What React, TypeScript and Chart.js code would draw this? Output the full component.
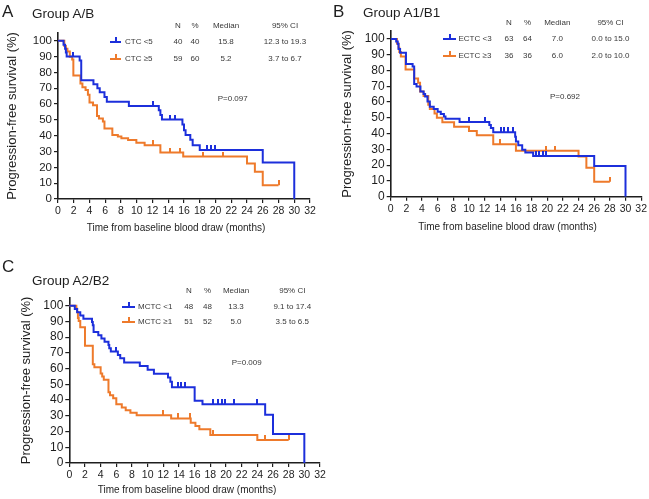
import React, { useEffect, useRef } from "react";
import { Chart, registerables } from "chart.js";

Chart.register(...registerables);

const FONT = '"Liberation Sans", Arial, Helvetica, sans-serif';
const BLUE = "#1c2fdb";
const ORANGE = "#ee7a2b";
const INK = "#1e1e1e";
const TXT = "#383838";

const xTicks = [0, 2, 4, 6, 8, 10, 12, 14, 16, 18, 20, 22, 24, 26, 28, 30, 32];
const yTicks = [0, 10, 20, 30, 40, 50, 60, 70, 80, 90, 100];
const tableHeader = ["N", "%", "Median", "95% CI"];
const yTitle = "Progression-free survival (%)";
const xTitle = "Time from baseline blood draw (months)";

// ---------- Panel A : Group A/B ----------
const aLowTimes = [0, 0.7, 0.9, 1.0, 1.1, 2.75, 2.95, 4.5, 5.0, 5.3, 5.9, 6.2, 9.0, 12.8, 13.0, 13.2, 15.8, 16.0, 16.2, 16.8, 17.1, 18.0, 26.0, 30.0];
const aLowSurv = [100, 97.5, 95, 92.5, 90, 87.5, 75, 72.5, 70, 67.5, 64.5, 61.5, 58.7, 56, 53, 50.2, 47, 43.5, 40.5, 37.5, 34, 31, 23, 0];
const aLowCensor = [1.9, 12.0, 14.2, 14.8, 18.9, 19.4, 19.9];
const aHighTimes = [0, 0.8, 1.0, 1.2, 1.5, 1.8, 1.95, 2.85, 3.1, 3.5, 3.8, 4.0, 4.45, 4.95, 5.2, 5.7, 5.9, 6.9, 7.6, 8.05, 8.9, 9.95, 11.0, 13.0, 15.9, 24.0, 25.0, 26.0, 28.0];
const aHighSurv = [100, 96.6, 94.9, 93.2, 89.8, 88.1, 78, 73, 70.6, 68.8, 65.8, 61, 59.3, 52.5, 50.8, 49, 44.5, 40.5, 39.5, 38.4, 37.3, 35.5, 34, 29.3, 26.8, 22.5, 17.2, 8.7, 8.7];
const aHighCensor = [12.0, 14.2, 15.5, 18.4, 21.0, 28.0];
const aLabels = ["CTC <5", "CTC \u22655"];
const aN = ["40", "59"];
const aPct = ["40", "60"];
const aMedian = ["15.8", "5.2"];
const aCI = ["12.3 to 19.3", "3.7 to 6.7"];
const aP = "P=0.097";

// ---------- Panel B : Group A1/B1 ----------
const bLowTimes = [0, 0.7, 0.9, 1.0, 1.2, 1.95, 2.8, 3.0, 3.3, 3.8, 4.2, 4.4, 4.7, 5.0, 5.5, 6.0, 6.4, 6.8, 7.0, 8.8, 12.6, 12.8, 13.1, 15.9, 16.0, 16.3, 16.8, 17.2, 18.2, 26.0, 30.0];
const bLowSurv = [100, 98.4, 96.8, 93.7, 91.2, 84.1, 82.5, 71.4, 69.8, 66.7, 65.1, 63.5, 60.3, 57.1, 55.6, 53.9, 52.4, 50.8, 49.5, 47.3, 45.5, 43.5, 40.8, 38, 35, 32.6, 29.7, 28, 25.8, 19.4, 0];
const bLowCensor = [10.0, 12.0, 14.1, 14.5, 15.0, 15.6, 18.6, 19.0, 19.4, 19.9];
const bHighTimes = [0, 0.8, 1.0, 1.1, 1.3, 1.9, 3.0, 3.5, 3.75, 4.2, 4.8, 5.0, 5.6, 5.9, 6.6, 8.1, 10.0, 11.0, 13.1, 16.0, 24.0, 25.0, 26.0, 28.0];
const bHighSurv = [100, 97.2, 94.4, 91.7, 88.9, 80.6, 75, 72.2, 66.7, 63.9, 58.3, 55.6, 52.8, 50, 47.2, 44.4, 41.7, 38.9, 33.2, 29.2, 25.5, 18.4, 9.5, 9.5];
const bHighCensor = [14.0, 19.9, 21.0, 28.0];
const bLabels = ["ECTC <3", "ECTC \u22653"];
const bN = ["63", "36"];
const bPct = ["64", "36"];
const bMedian = ["7.0", "6.0"];
const bCI = ["0.0 to 15.0", "2.0 to 10.0"];
const bP = "P=0.692";

// ---------- Panel C : Group A2/B2 ----------
const cLowTimes = [0, 0.7, 1.0, 1.4, 1.8, 2.9, 3.0, 3.1, 3.7, 4.1, 4.5, 5.0, 5.1, 5.3, 6.2, 6.5, 7.0, 9.0, 10.0, 10.8, 12.6, 12.9, 13.1, 16.0, 17.0, 25.0, 26.0, 30.0];
const cLowSurv = [100, 97.9, 95.8, 93.7, 91.7, 89.6, 87.5, 83.3, 81.2, 79.1, 77, 75, 72.9, 70.8, 68.7, 66.6, 63.9, 61.6, 59.2, 56.8, 54.3, 51.6, 48.2, 39.5, 37.4, 30.6, 18.5, 0];
const cLowCensor = [6.0, 13.9, 14.3, 14.8, 18.3, 19.0, 19.5, 19.9, 21.0, 23.9];
const cHighTimes = [0, 0.9, 1.0, 1.1, 1.2, 1.4, 2.0, 3.0, 3.2, 4.0, 4.2, 4.4, 5.0, 5.2, 5.6, 6.0, 6.7, 7.2, 7.8, 8.6, 13.0, 15.5, 16.1, 16.6, 18.0, 24.0, 28.0];
const cHighSurv = [100, 98, 96, 92.1, 90.2, 86.3, 74.5, 62.7, 60.8, 56.9, 54.9, 52.9, 45, 43, 41.2, 37.3, 35.3, 33.5, 32, 30.4, 28.3, 25.6, 23.5, 21.4, 17.8, 14.6, 14.6];
const cHighCensor = [12.0, 13.9, 15.4, 18.4, 25.0, 28.0];
const cLabels = ["MCTC <1", "MCTC \u22651"];
const cN = ["48", "51"];
const cPct = ["48", "52"];
const cMedian = ["13.3", "5.0"];
const cCI = ["9.1 to 17.4", "3.5 to 6.5"];
const cP = "P=0.009";

type Series = { times: number[]; surv: number[]; censor: number[] };

function toXY(times: number[], surv: number[]) {
  return times.map((t, i) => ({ x: t, y: surv[i] }));
}
function survAt(times: number[], surv: number[], t: number) {
  let s = surv[0];
  for (let i = 0; i < times.length; i++) if (times[i] <= t) s = surv[i];
  return s;
}
function tickImage(color: string) {
  const c = document.createElement("canvas");
  c.width = 2;
  c.height = 10;
  const g = c.getContext("2d")!;
  g.fillStyle = color;
  g.fillRect(0, 0, 2, 5);
  return c;
}

type PanelDef = {
  letter: string;
  title: string;
  low: Series;
  high: Series;
  labels: string[];
  n: string[];
  pct: string[];
  median: string[];
  ci: string[];
  p: string;
  left: number;
  top: number;
  w: number;
  h: number;
  padTop: number;
  padRight: number;
  yWidth: number;
  xHeight: number;
  yTitlePad: number;
  yTickSize: number;
  letterPos: [number, number];
  titlePos: [number, number];
  headerY: number;
  rowY: [number, number];
  cols: number[];
  glyphX: [number, number];
  labelX: number;
  pPos: [number, number];
  xTitlePos: [number, number];
};

const panels: PanelDef[] = [
  {
    letter: "A", title: "Group A/B",
    low: { times: aLowTimes, surv: aLowSurv, censor: aLowCensor },
    high: { times: aHighTimes, surv: aHighSurv, censor: aHighCensor },
    labels: aLabels, n: aN, pct: aPct, median: aMedian, ci: aCI, p: aP,
    left: 0, top: 0, w: 324, h: 240, padTop: 32.8, padRight: 14, yWidth: 58, xHeight: 41,
    yTitlePad: 5, yTickSize: 11.5,
    letterPos: [2, 11], titlePos: [32, 13.5], headerY: 25.5, rowY: [41.7, 58.5],
    cols: [178, 195, 226, 285], glyphX: [110, 121], labelX: 125,
    pPos: [232.7, 98.7], xTitlePos: [176, 228],
  },
  {
    letter: "B", title: "Group A1/B1",
    low: { times: bLowTimes, surv: bLowSurv, censor: bLowCensor },
    high: { times: bHighTimes, surv: bHighSurv, censor: bHighCensor },
    labels: bLabels, n: bN, pct: bPct, median: bMedian, ci: bCI, p: bP,
    left: 324, top: 0, w: 325, h: 240, padTop: 31.1, padRight: 7.3, yWidth: 66.7, xHeight: 43.3,
    yTitlePad: 15.7, yTickSize: 12,
    letterPos: [333, 11], titlePos: [363, 12.5], headerY: 22.7, rowY: [39, 56],
    cols: [509, 527.5, 557.3, 610.5], glyphX: [443, 456], labelX: 458.5,
    pPos: [565, 96.7], xTitlePos: [507.5, 227],
  },
  {
    letter: "C", title: "Group A2/B2",
    low: { times: cLowTimes, surv: cLowSurv, censor: cLowCensor },
    high: { times: cHighTimes, surv: cHighSurv, censor: cHighCensor },
    labels: cLabels, n: cN, pct: cPct, median: cMedian, ci: cCI, p: cP,
    left: 0, top: 245, w: 330, h: 254, padTop: 52.8, padRight: 10, yWidth: 69.3, xHeight: 36,
    yTitlePad: 18.2, yTickSize: 12,
    letterPos: [2, 266], titlePos: [32, 280.5], headerY: 290.7, rowY: [306.7, 321.7],
    cols: [188.8, 207.5, 236, 292.3], glyphX: [122, 135], labelX: 138,
    pPos: [246.7, 362.7], xTitlePos: [187, 490],
  },
];

function Txt(props: { x: number; y: number; size: number; center?: boolean; color?: string; children: React.ReactNode }) {
  const { x, y, size, center, color, children } = props;
  return (
    <div
      style={{
        position: "absolute",
        left: x,
        top: y,
        transform: center ? "translate(-50%, -50%)" : "translate(0, -50%)",
        fontFamily: FONT,
        fontSize: size,
        lineHeight: 1,
        whiteSpace: "nowrap",
        color: color || TXT,
      }}
    >
      {children}
    </div>
  );
}

function Glyph(props: { x0: number; x1: number; y: number; color: string }) {
  const { x0, x1, y, color } = props;
  const mid = (x0 + x1) / 2;
  return (
    <>
      <div style={{ position: "absolute", left: x0, top: y - 1, width: x1 - x0, height: 2, background: color }} />
      <div style={{ position: "absolute", left: mid - 1, top: y - 5, width: 2, height: 5, background: color }} />
    </>
  );
}

function PanelChart({ def }: { def: PanelDef }) {
  const ref = useRef<HTMLCanvasElement>(null);
  useEffect(() => {
    const { low, high } = def;
    const chart = new Chart(ref.current!, {
      type: "line",
      data: {
        datasets: [
          {
            data: toXY(low.times, low.surv),
            borderColor: BLUE,
            borderWidth: 2,
            stepped: true,
            pointRadius: 0,
            fill: false,
          },
          {
            data: low.censor.map((t) => ({ x: t, y: survAt(low.times, low.surv, t) })),
            showLine: false,
            pointStyle: tickImage(BLUE) as any,
            pointRadius: 5,
            borderColor: BLUE,
          },
          {
            data: toXY(high.times, high.surv),
            borderColor: ORANGE,
            borderWidth: 2,
            stepped: true,
            pointRadius: 0,
            fill: false,
          },
          {
            data: high.censor.map((t) => ({ x: t, y: survAt(high.times, high.surv, t) })),
            showLine: false,
            pointStyle: tickImage(ORANGE) as any,
            pointRadius: 5,
            borderColor: ORANGE,
          },
        ] as any,
      },
      options: {
        animation: false,
        responsive: false,
        devicePixelRatio: 1,
        events: [],
        layout: { padding: { top: def.padTop, right: def.padRight, bottom: 0, left: 0 } },
        plugins: { legend: { display: false }, tooltip: { enabled: false } },
        scales: {
          x: {
            type: "linear",
            min: 0,
            max: 32,
            afterBuildTicks: (s: any) => {
              s.ticks = xTicks.map((v) => ({ value: v }));
            },
            afterFit: (s: any) => {
              s.height = def.xHeight;
            },
            grid: { drawOnChartArea: false, drawTicks: true, tickLength: 4, color: INK, lineWidth: 1.2 },
            border: { display: true, color: INK, width: 1.6 },
            ticks: {
              autoSkip: false,
              maxRotation: 0,
              minRotation: 0,
              padding: 2,
              color: INK,
              font: { family: FONT, size: 10.5 },
            },
          },
          y: {
            type: "linear",
            min: 0,
            max: 105,
            afterBuildTicks: (s: any) => {
              s.ticks = yTicks.map((v) => ({ value: v }));
            },
            afterFit: (s: any) => {
              s.width = def.yWidth;
            },
            grid: { drawOnChartArea: false, drawTicks: true, tickLength: 4, color: INK, lineWidth: 1.2 },
            border: { display: true, color: INK, width: 1.6 },
            ticks: {
              autoSkip: false,
              padding: 2,
              color: INK,
              font: { family: FONT, size: def.yTickSize },
            },
            title: {
              display: true,
              text: yTitle,
              color: INK,
              font: { family: FONT, size: 13 },
              padding: { top: def.yTitlePad, bottom: 0 },
            },
          },
        },
      } as any,
    });
    return () => chart.destroy();
  }, []);
  return (
    <canvas
      ref={ref}
      width={def.w}
      height={def.h}
      style={{ position: "absolute", left: def.left, top: def.top, width: def.w, height: def.h }}
    />
  );
}

function PanelTexts({ def }: { def: PanelDef }) {
  const colors = [BLUE, ORANGE];
  return (
    <>
      <Txt x={def.letterPos[0]} y={def.letterPos[1]} size={17} color={INK}>{def.letter}</Txt>
      <Txt x={def.titlePos[0]} y={def.titlePos[1]} size={13.5} color={INK}>{def.title}</Txt>
      {tableHeader.map((h, i) => (
        <Txt key={"h" + i} x={def.cols[i]} y={def.headerY} size={8} center>{h}</Txt>
      ))}
      {[0, 1].map((r) => (
        <React.Fragment key={"r" + r}>
          <Glyph x0={def.glyphX[0]} x1={def.glyphX[1]} y={def.rowY[r]} color={colors[r]} />
          <Txt x={def.labelX} y={def.rowY[r]} size={8}>{def.labels[r]}</Txt>
          <Txt x={def.cols[0]} y={def.rowY[r]} size={8} center>{def.n[r]}</Txt>
          <Txt x={def.cols[1]} y={def.rowY[r]} size={8} center>{def.pct[r]}</Txt>
          <Txt x={def.cols[2]} y={def.rowY[r]} size={8} center>{def.median[r]}</Txt>
          <Txt x={def.cols[3]} y={def.rowY[r]} size={8} center>{def.ci[r]}</Txt>
        </React.Fragment>
      ))}
      <Txt x={def.pPos[0]} y={def.pPos[1]} size={8} center>{def.p}</Txt>
      <Txt x={def.xTitlePos[0]} y={def.xTitlePos[1]} size={10} center color={INK}>{xTitle}</Txt>
    </>
  );
}

export default function App() {
  return (
    <div
      style={{
        position: "absolute",
        left: 0,
        top: 0,
        width: 649,
        height: 499,
        background: "#fff",
        overflow: "hidden",
      }}
    >
      {panels.map((p, i) => (
        <PanelChart key={"c" + i} def={p} />
      ))}
      {panels.map((p, i) => (
        <PanelTexts key={"t" + i} def={p} />
      ))}
    </div>
  );
}
